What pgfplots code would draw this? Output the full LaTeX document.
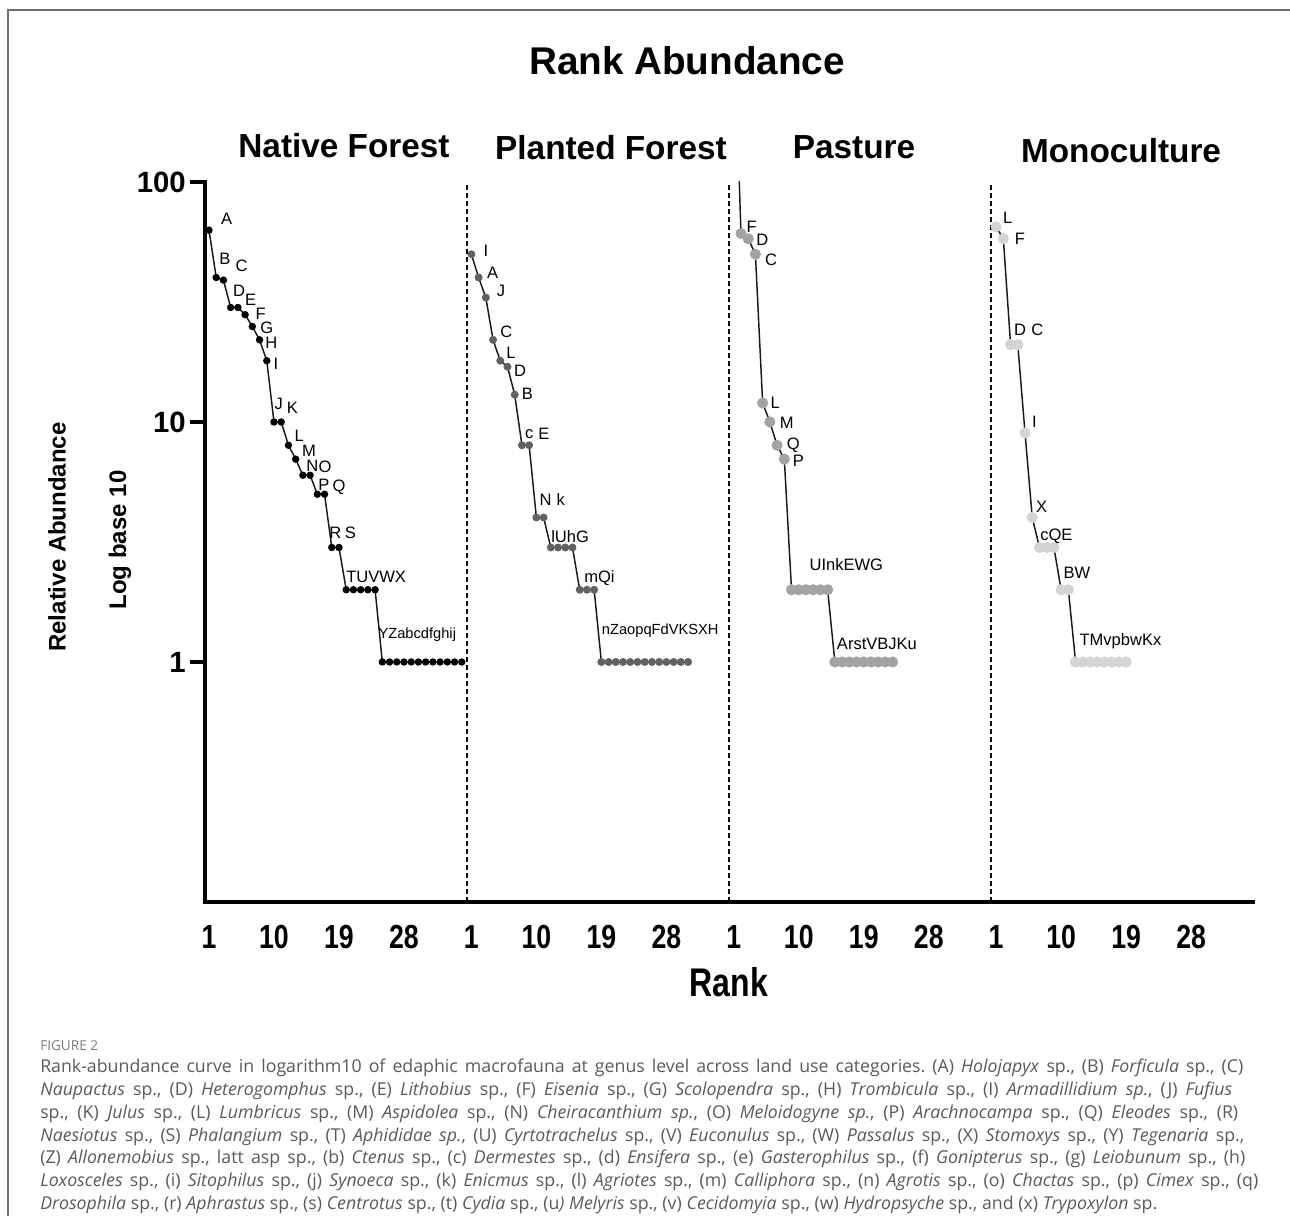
\documentclass[border=0pt]{standalone}
\usepackage{fontspec}
\setmainfont{Liberation Sans}
\newfontfamily\condsans[FakeStretch=0.8]{Liberation Sans}
\newfontfamily\capfont{Open Sans}
\usepackage{pgfplots}
\pgfplotsset{compat=1.18}
\usepackage{pgfplotstable}

\definecolor{nativec}{HTML}{000000}
\definecolor{plantedc}{HTML}{616161}
\definecolor{pasturec}{HTML}{A3A3A3}
\definecolor{monoc}{HTML}{D4D4D4}
\definecolor{framec}{HTML}{6E6E6E}
\definecolor{capc}{HTML}{5A5A5A}
\definecolor{figc}{HTML}{7A7A7A}

% rank / relative abundance for each land use
\pgfplotstableread{
r v
1 63
2 40
3 39
4 30
5 30
6 28
7 25
8 22
9 18
10 10
11 10
12 8
13 7
14 6
15 6
16 5
17 5
18 3
19 3
20 2
21 2
22 2
23 2
24 2
25 1
26 1
27 1
28 1
29 1
30 1
31 1
32 1
33 1
34 1
35 1
36 1
}\native

\pgfplotstableread{
r v
1 50
2 40
3 33
4 22
5 18
6 17
7 13
8 8
9 8
10 4
11 4
12 3
13 3
14 3
15 3
16 2
17 2
18 2
19 1
20 1
21 1
22 1
23 1
24 1
25 1
26 1
27 1
28 1
29 1
30 1
31 1
}\planted

\pgfplotstableread{
r v
1 500
2 61
3 58
4 50
5 12
6 10
7 8
8 7
9 2
10 2
11 2
12 2
13 2
14 2
15 1
16 1
17 1
18 1
19 1
20 1
21 1
22 1
23 1
}\pasture

\pgfplotstableread{
r v
1 65
2 58
3 21
4 21
5 9
6 4
7 3
8 3
9 3
10 2
11 2
12 1
13 1
14 1
15 1
16 1
17 1
18 1
19 1
}\mono

\begin{document}
\frenchspacing
\begin{tikzpicture}
\useasboundingbox (0,0) rectangle (967.5pt,912pt);

\begin{axis}[
  at={(153.75pt,235.5pt)}, anchor=south west,
  scale only axis, width=786pt, height=540pt,
  xmin=0.446, xmax=145.556,
  ymode=log, ymin=0.1, ymax=100,
  axis lines=left,
  axis line style={-, line width=3.5pt, line cap=rect},
  ytick={1,10,100}, yticklabels={1,10,100},
  yminorticks=false,
  xtick={1,10,19,28,37.33,46.33,55.33,64.33,73.66,82.66,91.66,100.66,109.99,118.99,127.99,136.99},
  xticklabels={1,10,19,28,1,10,19,28,1,10,19,28,1,10,19,28},
  tick align=outside,
  major tick length=11.25pt,
  y tick style={line width=3.5pt, black},
  x tick style={draw=none},
  yticklabel style={font=\bfseries\fontsize{22}{22}\selectfont, anchor=east, inner sep=0pt, xshift=-3pt},
  xticklabel style={font=\condsans\bfseries\fontsize{25}{25}\selectfont, anchor=center, inner sep=0pt, yshift=-15pt},
  clip=true,
]
% group separators
\draw[black, line width=1.4pt, dash pattern=on 3.5pt off 2.5pt] (axis cs:36.72,0.1) -- (axis cs:36.72,100);
\draw[black, line width=1.4pt, dash pattern=on 3.5pt off 2.5pt] (axis cs:73.0,0.1) -- (axis cs:73.0,100);
\draw[black, line width=1.4pt, dash pattern=on 3.5pt off 2.5pt] (axis cs:109.28,0.1) -- (axis cs:109.28,100);

\addplot[line width=1.1pt, black!90, mark=*, mark size=2.2pt,
  mark options={solid, fill=nativec, draw=nativec}]
  table[x expr=\thisrow{r}, y=v] {\native};
\addplot[line width=1.1pt, black!90, mark=*, mark size=2.4pt,
  mark options={solid, fill=plantedc, draw=plantedc}]
  table[x expr=\thisrow{r}+36.33, y=v] {\planted};
\addplot[line width=1.1pt, black!90, mark=*, mark size=3.6pt,
  mark options={solid, fill=pasturec, draw=pasturec}]
  table[x expr=\thisrow{r}+72.66, y=v] {\pasture};
\addplot[line width=1.1pt, black!90, mark=*, mark size=3.6pt,
  mark options={solid, fill=monoc, draw=monoc}]
  table[x expr=\thisrow{r}+108.99, y=v] {\mono};
\end{axis}

% text layer, coordinates in pixels from the top-left corner
\begin{scope}[shift={(0pt,912pt)}, x=0.75pt, y=-0.75pt]
  \draw[framec, line width=1.1pt] (8,10) rectangle (1320,1240);

  \node[font=\bfseries\fontsize{29}{29}\selectfont] at (687,61) {Rank Abundance};
  \begin{scope}[every node/.style={font=\bfseries\fontsize{25}{25}\selectfont}]
    \node at (344,146) {Native Forest};
    \node at (611,148) {Planted Forest};
    \node at (854,147) {Pasture};
    \node at (1121,151) {Monoculture};
  \end{scope}

  \node[rotate=90, font=\bfseries\fontsize{18}{18}\selectfont] at (57,537) {Relative Abundance};
  \node[rotate=90, font=\bfseries\fontsize{18}{18}\selectfont] at (120,540) {Log base 10};
  \node[font=\condsans\bfseries\fontsize{30}{30}\selectfont] at (729,982) {Rank};

  \begin{scope}[every node/.style={inner sep=0pt, font=\fontsize{12.4}{12.4}\selectfont}]
    % Native Forest
    \node at (226.7,219.3) {A};
    \node at (225,259.3) {B};
    \node at (241.7,266) {C};
    \node at (239,290.7) {D};
    \node at (250.7,300) {E};
    \node at (260.7,314) {F};
    \node at (266.7,328.3) {G};
    \node at (271.3,343.3) {H};
    \node at (276,364.3) {I};
    \node at (278.7,404.3) {J};
    \node at (292.3,407.7) {K};
    \node at (299.3,436) {L};
    \node at (309,451) {M};
    \node at (312.3,465.7) {N};
    \node at (325,466.7) {O};
    \node at (324,485) {P};
    \node at (339,487.3) {Q};
    \node at (335.3,532.7) {R};
    \node at (350.3,532.7) {S};
    \node[anchor=west] at (346,577.3) {TUVWX};
    \node[anchor=west, font=\fontsize{11}{11}\selectfont] at (378.3,634.3) {YZabcdfghij};
    % Planted Forest
    \node at (486,250.7) {I};
    \node at (492.7,272.7) {A};
    \node at (501,291) {J};
    \node at (506.3,331.7) {C};
    \node at (511,352.7) {L};
    \node at (520,371.3) {D};
    \node at (527.3,393.7) {B};
    \node at (529.3,434) {c};
    \node at (544,434) {E};
    \node at (545.7,500) {N};
    \node at (560.7,500) {k};
    \node[anchor=west] at (551,536.7) {lUhG};
    \node[anchor=west] at (584,578.3) {mQi};
    \node[anchor=west, font=\fontsize{11}{11}\selectfont] at (601.7,631) {nZaopqFdVKSXH};
    % Pasture
    \node at (751.7,226.7) {F};
    \node at (762.3,240) {D};
    \node at (771,260) {C};
    \node at (775.3,402.7) {L};
    \node at (786.7,423.3) {M};
    \node at (793.3,445) {Q};
    \node at (798.3,460.7) {P};
    \node[anchor=west] at (809.3,564.3) {UInkEWG};
    \node[anchor=west] at (836.7,644) {ArstVBJKu};
    % Monoculture
    \node at (1007.7,218.3) {L};
    \node at (1020,239.3) {F};
    \node at (1020,330) {D};
    \node at (1037.3,330) {C};
    \node at (1034.3,421.7) {I};
    \node at (1041.7,506.7) {X};
    \node[anchor=west] at (1040,536) {cQE};
    \node[anchor=west] at (1063.3,572.7) {BW};
    \node[anchor=west] at (1079.3,641) {TMvpbwKx};
  \end{scope}

  % caption
  \node[anchor=base west, inner sep=0pt, text=figc, font=\capfont\fontsize{10.2}{10.2}\selectfont] at (40,1051) {FIGURE 2};
  \begin{scope}[every node/.style={anchor=base west, inner sep=0pt, text=capc, font=\capfont\fontsize{13.3}{13.3}\selectfont}]
    \node at (40,1073) {\makebox[902.25pt][s]{Rank-abundance curve in logarithm10 of edaphic macrofauna at genus level across land use categories. (A) \textit{Holojapyx} sp., (B) \textit{Forficula} sp., (C)}};
    \node at (40,1095.7) {\makebox[894pt][s]{\textit{Naupactus} sp., (D) \textit{Heterogomphus} sp., (E) \textit{Lithobius} sp., (F) \textit{Eisenia} sp., (G) \textit{Scolopendra} sp., (H) \textit{Trombicula} sp., (I) \textit{Armadillidium sp.}, (J) \textit{Fufius}}};
    \node at (40,1118.4) {\makebox[898.5pt][s]{sp., (K) \textit{Julus} sp., (L) \textit{Lumbricus} sp., (M) \textit{Aspidolea} sp., (N) \textit{Cheiracanthium sp.}, (O) \textit{Meloidogyne sp.}, (P) \textit{Arachnocampa} sp., (Q) \textit{Eleodes} sp., (R)}};
    \node at (40,1141.1) {\makebox[903pt][s]{\textit{Naesiotus} sp., (S) \textit{Phalangium} sp., (T) \textit{Aphididae sp.}, (U) \textit{Cyrtotrachelus} sp., (V) \textit{Euconulus} sp., (W) \textit{Passalus} sp., (X) \textit{Stomoxys} sp., (Y) \textit{Tegenaria} sp.,}};
    \node at (40,1163.8) {\makebox[903.75pt][s]{(Z) \textit{Allonemobius} sp., latt asp sp., (b) \textit{Ctenus} sp., (c) \textit{Dermestes} sp., (d) \textit{Ensifera} sp., (e) \textit{Gasterophilus} sp., (f) \textit{Gonipterus} sp., (g) \textit{Leiobunum} sp., (h)}};
    \node at (40,1186.5) {\makebox[913.5pt][s]{\textit{Loxosceles} sp., (i) \textit{Sitophilus} sp., (j) \textit{Synoeca} sp., (k) \textit{Enicmus} sp., (l) \textit{Agriotes} sp., (m) \textit{Calliphora} sp., (n) \textit{Agrotis} sp., (o) \textit{Chactas} sp., (p) \textit{Cimex} sp., (q)}};
    \node at (40,1209.2) {\makebox[837.75pt][s]{\textit{Drosophila} sp., (r) \textit{Aphrastus} sp., (s) \textit{Centrotus} sp., (t) \textit{Cydia} sp., (u\textit{)} \textit{Melyris} sp., (v) \textit{Cecidomyia} sp., (w) \textit{Hydropsyche} sp., and (x) \textit{Trypoxylon} sp.}};
  \end{scope}
\end{scope}
\end{tikzpicture}
\end{document}
